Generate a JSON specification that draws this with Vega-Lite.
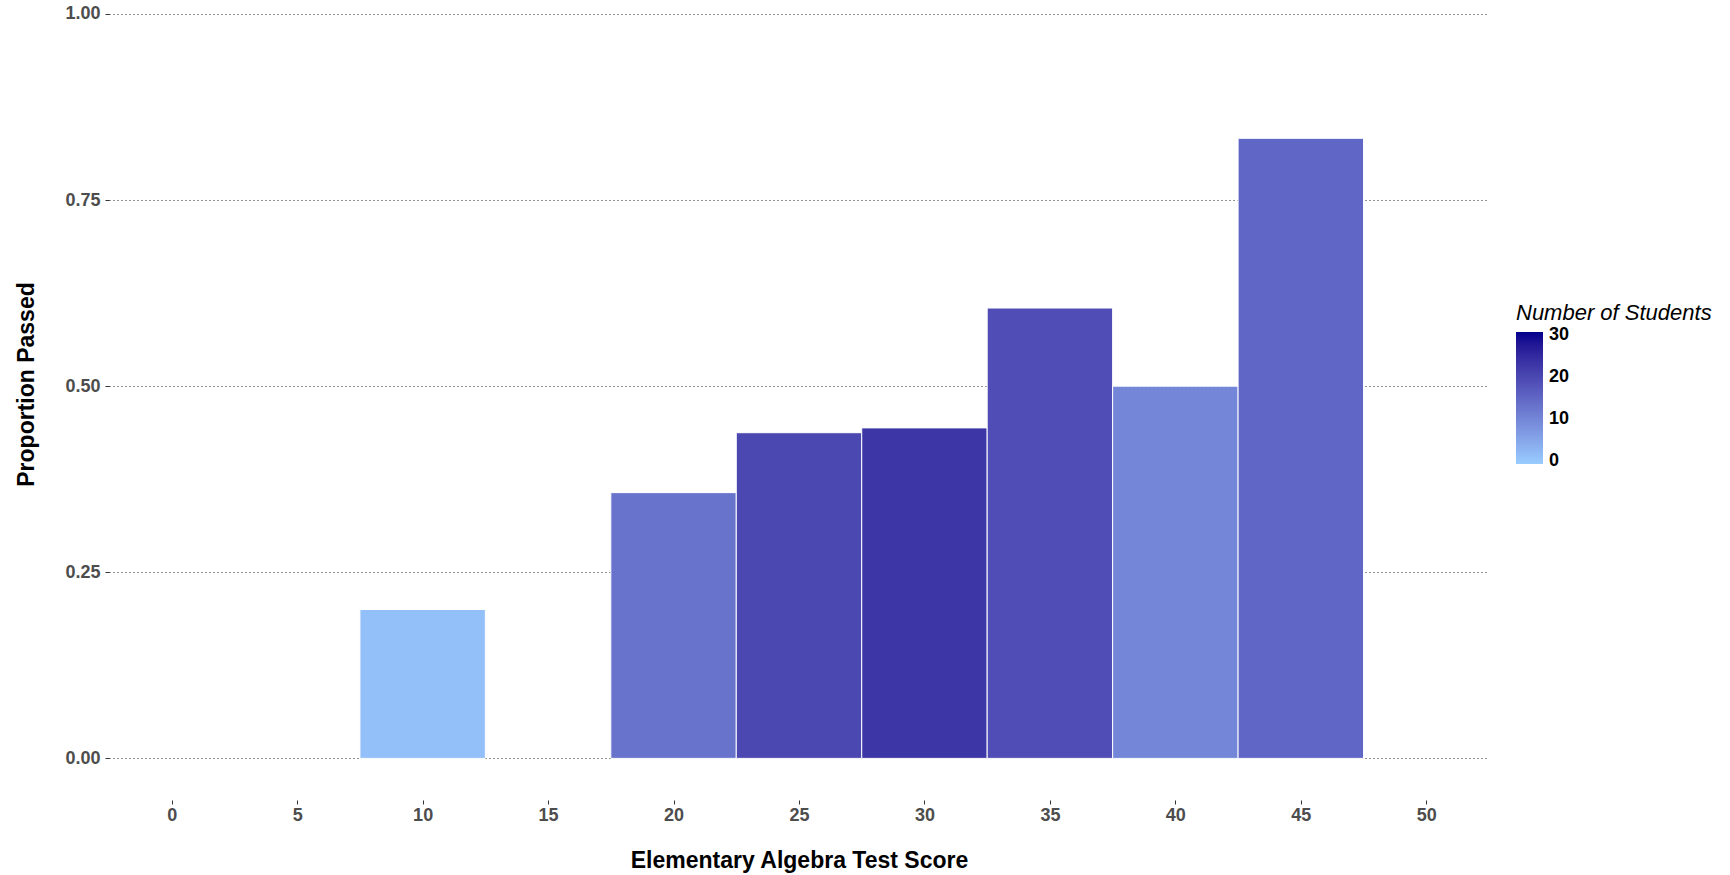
{
  "$schema": "https://vega.github.io/schema/vega-lite/v6.json",
  "width": 1380,
  "height": 800,
  "autosize": {"type": "none"},
  "padding": {"left": 109, "top": 0, "right": 241, "bottom": 75},
  "background": "white",
  "config": {"view": {"stroke": null}, "font": "Liberation Sans"},
  "data": {
    "values": [
      {"score": 10, "bin_start": 7.5, "bin_end": 12.5, "prop": 0.2, "n": 1},
      {"score": 20, "bin_start": 17.5, "bin_end": 22.5, "prop": 0.357, "n": 13},
      {"score": 25, "bin_start": 22.5, "bin_end": 27.5, "prop": 0.4375, "n": 20},
      {"score": 30, "bin_start": 27.5, "bin_end": 32.5, "prop": 0.444, "n": 23},
      {"score": 35, "bin_start": 32.5, "bin_end": 37.5, "prop": 0.605, "n": 19},
      {"score": 40, "bin_start": 37.5, "bin_end": 42.5, "prop": 0.5, "n": 10},
      {"score": 45, "bin_start": 42.5, "bin_end": 47.5, "prop": 0.833, "n": 15}
    ]
  },
  "mark": {"type": "rect", "stroke": "white", "strokeWidth": 1},
  "encoding": {
    "x": {
      "field": "bin_start",
      "type": "quantitative",
      "scale": {"domain": [-2.5, 52.5], "nice": false, "zero": false},
      "axis": {
        "values": [0, 5, 10, 15, 20, 25, 30, 35, 40, 45, 50],
        "grid": false,
        "domain": false,
        "ticks": true,
        "tickColor": "#333333",
        "tickSize": 4,
        "tickWidth": 1,
        "labelFontSize": 18,
        "labelFontWeight": "bold",
        "labelColor": "#4D4D4D",
        "labelPadding": 2,
        "title": "Elementary Algebra Test Score",
        "titleFontSize": 23,
        "titleFontWeight": "bold",
        "titleColor": "black",
        "titleBaseline": "alphabetic",
        "titleY": 67
      }
    },
    "x2": {"field": "bin_end"},
    "y": {
      "field": "prop",
      "type": "quantitative",
      "scale": {"domain": [-0.0559, 1.0188], "nice": false, "zero": false},
      "axis": {
        "values": [0, 0.25, 0.5, 0.75, 1],
        "format": ".2f",
        "grid": true,
        "gridDash": [1, 3],
        "gridColor": "#222222",
        "gridWidth": 1,
        "domain": false,
        "ticks": true,
        "tickColor": "#333333",
        "tickSize": 4,
        "tickWidth": 1,
        "labelFontSize": 18,
        "labelFontWeight": "bold",
        "labelColor": "#4D4D4D",
        "labelPadding": 5,
        "title": "Proportion Passed",
        "titleFontSize": 23,
        "titleFontWeight": "bold",
        "titleColor": "black",
        "titleAngle": 270,
        "titleBaseline": "alphabetic",
        "titleAlign": "center",
        "titleX": -76,
        "titleY": 384
      }
    },
    "y2": {"datum": 0},
    "color": {
      "field": "n",
      "type": "quantitative",
      "scale": {"domain": [-0.8, 30.8], "range": ["#99CCFF", "#00008B"], "interpolate": "lab"},
      "legend": {
        "title": "Number of Students",
        "orient": "none",
        "legendX": 1407,
        "legendY": 303,
        "direction": "vertical",
        "gradientLength": 132,
        "gradientThickness": 27,
        "gradientStrokeWidth": 0,
        "values": [0, 10, 20, 30],
        "padding": 0,
        "titleFontSize": 22,
        "titleFontStyle": "italic",
        "titleFontWeight": "normal",
        "titleColor": "black",
        "titlePadding": 7,
        "titleLimit": 400,
        "labelFontSize": 18,
        "labelFontWeight": "bold",
        "labelColor": "black",
        "labelOffset": 6,
        "labelBaseline": "middle",
        "labelOverlap": false
      }
    }
  }
}
